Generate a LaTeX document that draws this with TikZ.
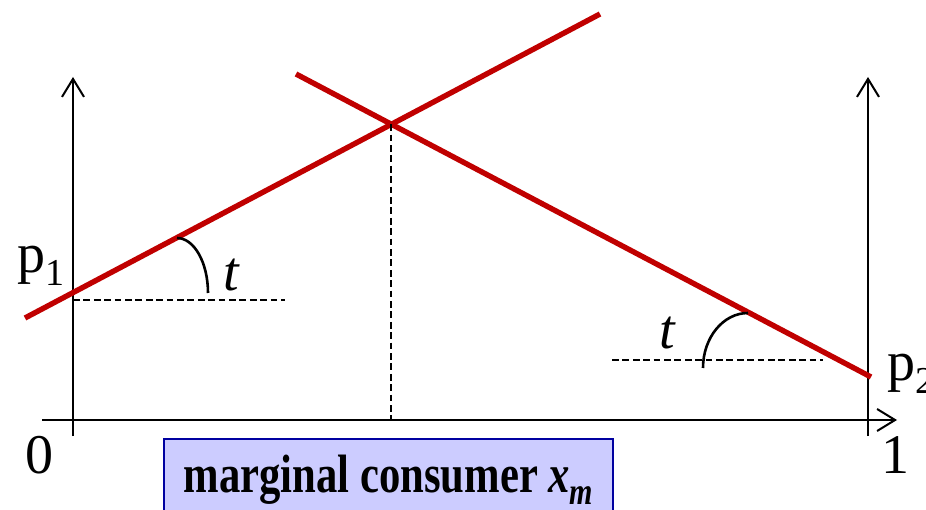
\documentclass[tikz,border=0pt]{standalone}
\usepackage{fontspec}
\setmainfont{Liberation Serif}
\usetikzlibrary{arrows.meta,calc}
\definecolor{linered}{RGB}{192,0,0}
\definecolor{boxfill}{RGB}{204,204,255}
\definecolor{boxline}{RGB}{0,0,160}
\newcommand{\lowsub}[1]{\raisebox{-0.22em}{\fontsize{19}{20}\selectfont #1}}

\begin{document}
\begin{tikzpicture}[x=0.5pt,y=0.5pt,
  axis/.style={line width=1pt,-{Straight Barb[length=9pt,width=11pt]}},
  priceline/.style={linered,line width=2.7pt},
  guide/.style={line width=1pt,dash pattern=on 3.4pt off 1.8pt},
  lbl/.style={font=\fontsize{28}{30}\selectfont,inner sep=0pt}]
  \useasboundingbox (0,0) rectangle (926,509);
  % axes
  \coordinate (xstart) at (42,89);
  \coordinate (xend) at (897,89);
  \coordinate (lbot) at (73,73);
  \coordinate (ltop) at (73,432);
  \coordinate (rbot) at (868,73);
  \coordinate (rtop) at (868,432);
  \draw[axis] (xstart) -- (xend);
  \draw[axis] (lbot) -- (ltop);
  \draw[axis] (rbot) -- (rtop);
  \node[lbl,anchor=base] (zero) at (39.5,36) {0};
  \node[lbl,anchor=base] (one) at (895,36) {1};
  % price lines
  \coordinate (a1) at (25,191);
  \coordinate (a2) at (600,495);
  \coordinate (b1) at (296,435);
  \coordinate (b2) at (871,132);
  \draw[priceline] (a1) -- (a2);
  \draw[priceline] (b1) -- (b2);
  \coordinate (cross) at (intersection of a1--a2 and b1--b2);
  \draw[guide] (cross) -- (cross |- xstart);
  % left side
  \coordinate (h1a) at (73,209);
  \coordinate (h1b) at (285,209);
  \coordinate (arc1) at (177,271);
  \draw[guide] (h1a) -- (h1b);
  \draw[line width=1.3pt] (arc1) arc[start angle=90,end angle=0,x radius=31,y radius=55];
  \node[lbl,anchor=base west] (p1) at (17,236) {p\lowsub{1}};
  \node[lbl] (t1) at (232,234) {\textit{t}};
  % right side
  \coordinate (h2a) at (612,149);
  \coordinate (h2b) at (823,149);
  \coordinate (arc2) at (703,141);
  \draw[guide] (h2a) -- (h2b);
  \draw[line width=1.3pt] (arc2) arc[start angle=180,end angle=90,x radius=45,y radius=55];
  \node[lbl,anchor=base west] (p2) at (887,128) {p\lowsub{2}};
  \node[lbl] (t2) at (668,176) {\textit{t}};
  % marginal consumer box
  \node[draw=boxline,fill=boxfill,line width=1pt,anchor=north west,
    minimum width=224.5pt,minimum height=40.5pt,inner sep=0pt,
    font=\fontsize{27}{29}\selectfont\bfseries] (mbox) at (163,71)
    {\scalebox{0.79}[1]{marginal consumer \textit{x}\lowsub{\textit{m}}}};
\end{tikzpicture}
\end{document}
